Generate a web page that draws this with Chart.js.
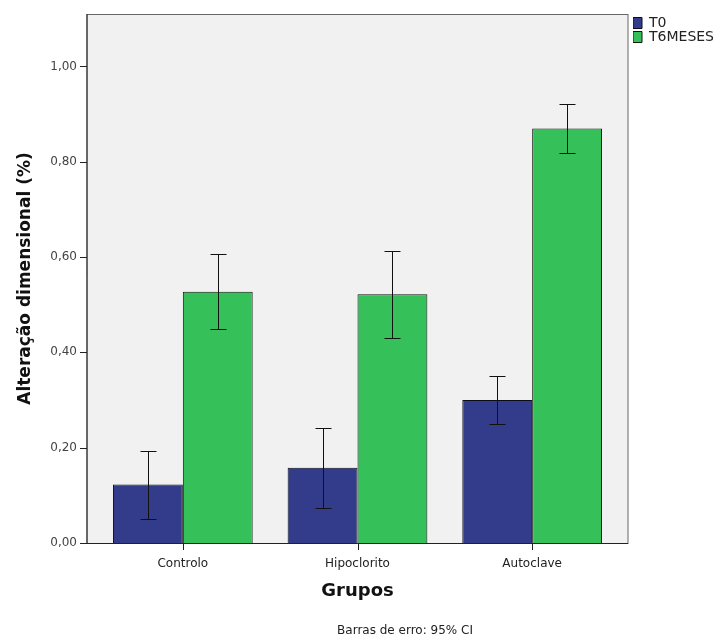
<!DOCTYPE html>
<html>
<head>
<meta charset="utf-8">
<script src="https://cdn.jsdelivr.net/npm/chart.js@4"></script>
<style>
  html, body { margin: 0; padding: 0; background: #fff; }
  #wrap { width: 713px; height: 640px; }
</style>
</head>
<body>
<div id="wrap"><canvas id="chart"></canvas></div>
<script>
// groups and series
var grupos = ['Controlo', 'Hipoclorito', 'Autoclave'];
var t0 = [0.123, 0.158, 0.300];
var t0Low = [0.050, 0.073, 0.250];
var t0High = [0.194, 0.242, 0.350];
var t6 = [0.527, 0.522, 0.870];
var t6Low = [0.449, 0.430, 0.818];
var t6High = [0.606, 0.612, 0.922];
var yTicks = [0, 0.2, 0.4, 0.6, 0.8, 1.0];

var lows = [t0Low, t6Low];
var highs = [t0High, t6High];
var PAD = 8.5; // frame sticks out a bit past the outer bars

// frame, grey background, tick marks and error bars like the SPSS output
var frame = {
  id: 'frame',
  beforeLayout(chart) {
    var lg = chart.legend;
    if (lg && !lg._wrapped) {
      var fit = lg.fit;
      lg.fit = function () { fit.call(this); this.width = 93.5; };
      lg._wrapped = true;
    }
  },
  afterLayout(chart) {
    var lg = chart.legend;
    lg.left += 13.5; lg.right += 13.5;
    lg.top += 2; lg.bottom += 2;
  },
  beforeDraw(chart) {
    var ctx = chart.ctx, a = chart.chartArea;
    ctx.save();
    ctx.fillStyle = '#f1f1f1';
    ctx.fillRect(a.left - PAD, a.top, a.right - a.left + 2 * PAD, a.bottom - a.top);
    ctx.restore();
  },
  afterDatasetsDraw(chart) {
    var ctx = chart.ctx, a = chart.chartArea;
    var x = chart.scales.x, y = chart.scales.y;
    ctx.save();
    ctx.strokeStyle = '#666';
    ctx.lineWidth = 1;
    ctx.strokeRect(a.left - PAD, a.top + 0.5, a.right - a.left + 2 * PAD, a.bottom - a.top);
    ctx.strokeStyle = '#222';
    ctx.beginPath();
    ctx.moveTo(a.left - PAD, a.bottom + 0.5);
    ctx.lineTo(a.right + PAD, a.bottom + 0.5);
    ctx.moveTo(a.left - PAD, a.top);
    ctx.lineTo(a.left - PAD, a.bottom);
    y.ticks.forEach(function (t) {
      var py = Math.round(y.getPixelForValue(t.value)) + 0.5;
      ctx.moveTo(a.left - PAD - 7, py);
      ctx.lineTo(a.left - PAD, py);
    });
    grupos.forEach(function (g, i) {
      var px = Math.round(x.getPixelForValue(i)) + 0.5;
      ctx.moveTo(px, a.bottom);
      ctx.lineTo(px, a.bottom + 7);
    });
    ctx.stroke();

    // error bars (95% CI)
    ctx.strokeStyle = '#111';
    ctx.beginPath();
    chart.data.datasets.forEach(function (ds, di) {
      var meta = chart.getDatasetMeta(di);
      meta.data.forEach(function (bar, i) {
        var bx = Math.round(bar.x) + 0.5;
        var yl = Math.round(y.getPixelForValue(lows[di][i])) + 0.5;
        var yh = Math.round(y.getPixelForValue(highs[di][i])) + 0.5;
        ctx.moveTo(bx, yl); ctx.lineTo(bx, yh);
        ctx.moveTo(bx - 8, yl); ctx.lineTo(bx + 8, yl);
        ctx.moveTo(bx - 8, yh); ctx.lineTo(bx + 8, yh);
      });
    });
    ctx.stroke();

    ctx.fillStyle = '#222';
    ctx.font = '12px "DejaVu Sans"';
    ctx.textAlign = 'center';
    ctx.textBaseline = 'middle';
    ctx.fillText('Barras de erro: 95% CI', 405, 631);
    ctx.restore();
  }
};

new Chart(document.getElementById('chart'), {
  type: 'bar',
  data: {
    labels: grupos,
    datasets: [
      {
        label: 'T0',
        data: t0,
        backgroundColor: '#323c8a',
        borderColor: '#0d0d1a',
        borderWidth: 1
      },
      {
        label: 'T6MESES',
        data: t6,
        backgroundColor: '#35c05a',
        borderColor: '#0d1a0d',
        borderWidth: 1
      }
    ]
  },
  options: {
    responsive: true,
    maintainAspectRatio: false,
    animation: false,
    layout: { padding: { top: 14, right: 0, bottom: 38, left: 0 } },
    datasets: { bar: { barPercentage: 1, categoryPercentage: 0.8 } },
    scales: {
      x: {
        afterFit: function (s) { s.height = 59; s.paddingLeft = 0; s.paddingRight = 0; },
        grid: { display: false, drawTicks: false },
        border: { display: false },
        ticks: { color: '#222', font: { family: 'DejaVu Sans', size: 12 }, padding: 14 },
        title: {
          display: true,
          text: 'Grupos',
          color: '#111',
          font: { family: 'DejaVu Sans', size: 18, weight: 'bold' },
          padding: { top: 0, bottom: 0 }
        }
      },
      y: {
        min: 0,
        max: 1.11,
        afterFit: function (s) { s.width = 95.5; s.paddingTop = 0; s.paddingBottom = 0; },
        afterBuildTicks: function (scale) {
          scale.ticks = yTicks.map(function (v) { return { value: v }; });
        },
        grid: { display: false, drawTicks: false },
        border: { display: false },
        ticks: {
          color: '#444',
          font: { family: 'DejaVu Sans', size: 12 },
          padding: 18.5,
          callback: function (v) { return v.toFixed(2).replace('.', ','); }
        },
        title: {
          display: true,
          text: 'Alteração dimensional (%)',
          color: '#111',
          font: { family: 'DejaVu Sans', size: 17, weight: 'bold' },
          padding: { top: 15, bottom: 0 }
        }
      }
    },
    plugins: {
      legend: {
        position: 'right',
        align: 'start',
        labels: {
          boxWidth: 9,
          boxHeight: 11,
          padding: 0,
          color: '#222',
          font: { family: 'DejaVu Sans', size: 14 }
        }
      },
      tooltip: { enabled: false }
    }
  },
  plugins: [frame]
});
</script>
</body>
</html>
